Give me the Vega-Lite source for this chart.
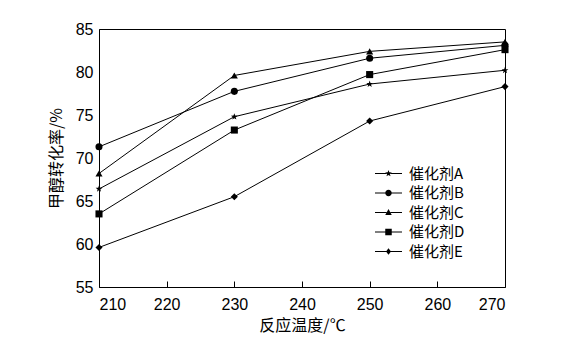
{
  "$schema": "https://vega.github.io/schema/vega-lite/v6.json",
  "width": 406,
  "height": 258,
  "autosize": {"type": "none"},
  "padding": {"left": 99, "top": 29, "right": 75, "bottom": 66},
  "background": "white",
  "config": {
    "view": {"stroke": "black", "strokeWidth": 1},
    "axis": {"grid": false, "domainColor": "black", "tickColor": "black", "labelColor": "black", "titleColor": "black", "labelFont": "Liberation Sans", "labelFontSize": 16, "titleFont": "Noto Sans CJK SC", "titleFontSize": 16, "titleFontWeight": "normal"}
  },
  "data": {"values": [
    {"T": 210, "rate": 66.4, "cat": "催化剂A"},
    {"T": 230, "rate": 74.8, "cat": "催化剂A"},
    {"T": 250, "rate": 78.6, "cat": "催化剂A"},
    {"T": 270, "rate": 80.2, "cat": "催化剂A"},
    {"T": 210, "rate": 71.3, "cat": "催化剂B"},
    {"T": 230, "rate": 77.75, "cat": "催化剂B"},
    {"T": 250, "rate": 81.6, "cat": "催化剂B"},
    {"T": 270, "rate": 83.1, "cat": "催化剂B"},
    {"T": 210, "rate": 68.2, "cat": "催化剂C"},
    {"T": 230, "rate": 79.6, "cat": "催化剂C"},
    {"T": 250, "rate": 82.4, "cat": "催化剂C"},
    {"T": 270, "rate": 83.5, "cat": "催化剂C"},
    {"T": 210, "rate": 63.5, "cat": "催化剂D"},
    {"T": 230, "rate": 73.25, "cat": "催化剂D"},
    {"T": 250, "rate": 79.7, "cat": "催化剂D"},
    {"T": 270, "rate": 82.6, "cat": "催化剂D"},
    {"T": 210, "rate": 59.6, "cat": "催化剂E"},
    {"T": 230, "rate": 65.5, "cat": "催化剂E"},
    {"T": 250, "rate": 74.3, "cat": "催化剂E"},
    {"T": 270, "rate": 78.3, "cat": "催化剂E"}
  ]},
  "encoding": {
    "x": {"field": "T", "type": "quantitative", "scale": {"domain": [210, 270], "nice": false, "zero": false},
      "axis": {"title": "反应温度/℃", "values": [210, 220, 230, 240, 250, 260, 270], "offset": -6, "domain": false, "tickSize": 6, "labelPadding": 9, "titlePadding": 5}},
    "y": {"field": "rate", "type": "quantitative", "scale": {"domain": [55, 85], "nice": false, "zero": false},
      "axis": {"title": "甲醇转化率/%", "values": [55, 60, 65, 70, 75, 80, 85], "ticks": false, "labelPadding": 6, "titlePadding": 11}}
  },
  "resolve": {"scale": {"shape": "independent"}},
  "layer": [
    {"mark": {"type": "line", "color": "black", "strokeWidth": 1},
     "encoding": {"detail": {"field": "cat", "type": "nominal"}}},
    {"mark": {"type": "point", "filled": true, "color": "black", "opacity": 1},
     "encoding": {
       "shape": {"field": "cat", "type": "nominal",
         "scale": {"domain": ["催化剂A", "催化剂B", "催化剂C", "催化剂D", "催化剂E"], "range": ["M0,-1L0.235,-0.324L0.951,-0.309L0.38,0.124L0.588,0.809L0,0.4L-0.588,0.809L-0.38,0.124L-0.951,-0.309L-0.235,-0.324Z", "circle", "triangle-up", "square", "diamond"]},
         "legend": null},
       "size": {"value": 50}
     }},
    {"transform": [{"filter": "datum.T < 0"}],
     "mark": {"type": "point", "filled": true, "color": "black", "opacity": 1},
     "encoding": {
       "shape": {"field": "cat", "type": "nominal",
         "scale": {"domain": ["催化剂A", "催化剂B", "催化剂C", "催化剂D", "催化剂E"], "range": [
           "M-2.7,-0.1H-0.4V0.1H-2.7ZM0.4,-0.1H2.7V0.1H0.4ZM0,-0.7L0.165,-0.227L0.666,-0.216L0.266,0.087L0.411,0.566L0,0.28L-0.411,0.566L-0.266,0.087L-0.666,-0.216L-0.165,-0.227Z",
           "M-2.7,-0.1H-0.4V0.1H-2.7ZM0.4,-0.1H2.7V0.1H0.4ZM-0.65,0A0.65,0.65,0,1,1,0.65,0A0.65,0.65,0,1,1,-0.65,0Z",
           "M-2.7,-0.1H-0.4V0.1H-2.7ZM0.4,-0.1H2.7V0.1H0.4ZM0,-0.7L0.65,0.5L-0.65,0.5Z",
           "M-2.7,-0.1H-0.4V0.1H-2.7ZM0.4,-0.1H2.7V0.1H0.4ZM-0.65,-0.65H0.65V0.65H-0.65Z",
           "M-2.7,-0.1H-0.4V0.1H-2.7ZM0.4,-0.1H2.7V0.1H0.4ZM0,-0.65L0.5,0L0,0.65L-0.5,0Z"]},
         "legend": {"title": null, "orient": "none", "legendX": 282, "legendY": 137,
           "symbolSize": 100, "symbolFillColor": "black", "symbolOpacity": 1,
           "labelFont": "Noto Sans CJK SC", "labelFontSize": 15, "labelColor": "black", "labelOffset": 13, "rowPadding": 3.5}},
       "size": {"value": 100}
     }}
  ]
}
